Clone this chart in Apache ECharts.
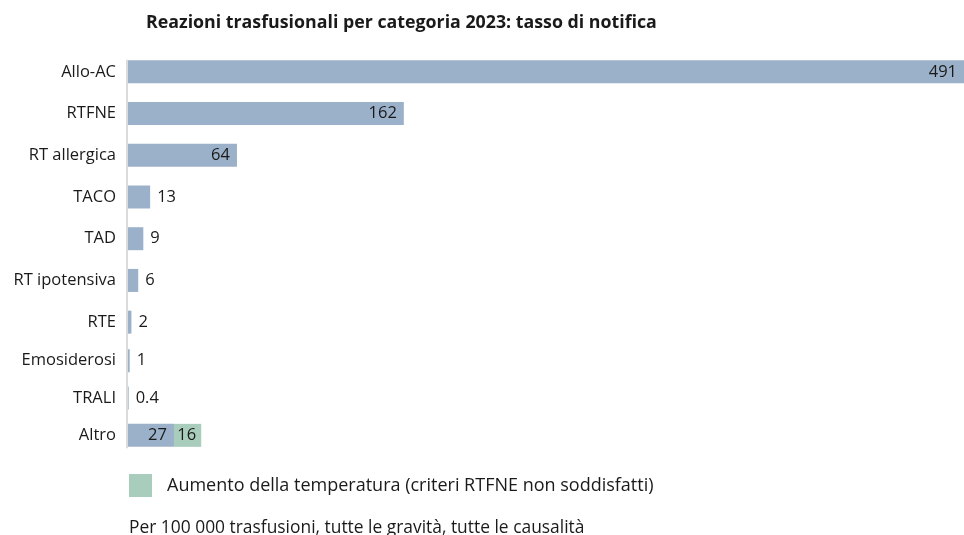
<!DOCTYPE html>
<html>
<head>
<meta charset="utf-8">
<script src="https://cdn.jsdelivr.net/npm/echarts@6/dist/echarts.min.js"></script>
<style>
  html, body { margin: 0; padding: 0; background: #fff; }
  #chart { width: 964px; height: 535px; }
</style>
</head>
<body>
<div id="chart"></div>
<script>
// dati
var categories = ['Allo-AC', 'RTFNE', 'RT allergica', 'TACO', 'TAD', 'RT ipotensiva', 'RTE', 'Emosiderosi', 'TRALI', 'Altro'];
var rates = [491, 162, 64, 13, 9, 6, 2, 1, 0.4, 27];
var tempRise = [null, null, null, null, null, null, null, null, null, 16];
var tempRiseName = 'Aumento della temperatura (criteri RTFNE non soddisfatti)';
var titleText = 'Reazioni trasfusionali per categoria 2023: tasso di notifica';
var footText = 'Per 100 000 trasfusioni, tutte le gravità, tutte le causalità';

var FONT = '"Open Sans", sans-serif';
var BLUE = '#9bb1c9';
var GREEN = '#a8cdbd';
var TXT = '#1a1a1a';
var split = 7; // le ultime righe sono un po' più strette

function blueData(vals) {
    return vals.map(function (v) {
        var inside = v > 20;
        return {
            value: v,
            label: {
                position: inside ? 'insideRight' : 'right',
                distance: 7
            }
        };
    });
}

var chart = echarts.init(document.getElementById('chart'));

var yBase = {
    type: 'category',
    inverse: true,
    axisLine: { show: false },
    axisTick: { show: false },
    axisLabel: { color: TXT, fontFamily: FONT, fontSize: 16.5, margin: 12 }
};
var xBase = { type: 'value', min: 0, max: 491, show: false };
var labelBase = { show: true, color: TXT, fontFamily: FONT, fontSize: 16.5 };

chart.setOption({
    animation: false,
    title: [{
        text: titleText,
        left: 141, top: 9,
        textStyle: { color: TXT, fontFamily: FONT, fontSize: 17.8, fontWeight: 'bold' }
    }, {
        text: footText,
        left: 124, top: 515,
        textStyle: { color: TXT, fontFamily: FONT, fontSize: 17.4, fontWeight: 'normal' }
    }],
    legend: {
        data: [tempRiseName],
        left: 124, top: 469,
        icon: 'rect',
        itemWidth: 23, itemHeight: 23,
        textStyle: { color: TXT, fontFamily: FONT, fontSize: 18, padding: [0, 0, 0, 10] }
    },
    grid: [
        { left: 128, right: 0, top: 51, height: 292 },
        { left: 128, right: 0, top: 342, height: 112 }
    ],
    xAxis: [
        Object.assign({ gridIndex: 0 }, xBase),
        Object.assign({ gridIndex: 1 }, xBase)
    ],
    yAxis: [
        Object.assign({ gridIndex: 0, data: categories.slice(0, split) }, yBase),
        Object.assign({ gridIndex: 1, data: categories.slice(split) }, yBase)
    ],
    series: [{
        type: 'bar',
        xAxisIndex: 0, yAxisIndex: 0,
        barWidth: 23,
        itemStyle: { color: BLUE },
        label: labelBase,
        data: blueData(rates.slice(0, split))
    }, {
        type: 'bar',
        name: 'Tasso',
        xAxisIndex: 1, yAxisIndex: 1,
        stack: 'altro',
        barWidth: 23,
        itemStyle: { color: BLUE },
        label: labelBase,
        data: blueData(rates.slice(split))
    }, {
        type: 'bar',
        name: tempRiseName,
        xAxisIndex: 1, yAxisIndex: 1,
        stack: 'altro',
        barWidth: 23,
        itemStyle: { color: GREEN },
        label: Object.assign({}, labelBase, { position: 'insideRight', distance: 5 }),
        data: tempRise.slice(split)
    }]
});

// linea dell'asse: solo dall'alto della prima barra al fondo dell'ultima
var yTop = chart.convertToPixel({ yAxisIndex: 0 }, categories[0]) - 12;
var yBot = chart.convertToPixel({ yAxisIndex: 1 }, categories[categories.length - 1]) + 13;
var xZero = chart.convertToPixel({ xAxisIndex: 0 }, 0);
chart.setOption({
    graphic: [{
        type: 'line',
        shape: { x1: xZero - 1, y1: yTop, x2: xZero - 1, y2: yBot },
        style: { stroke: '#cfcfcf', lineWidth: 1.5 }
    }]
});
</script>
</body>
</html>
